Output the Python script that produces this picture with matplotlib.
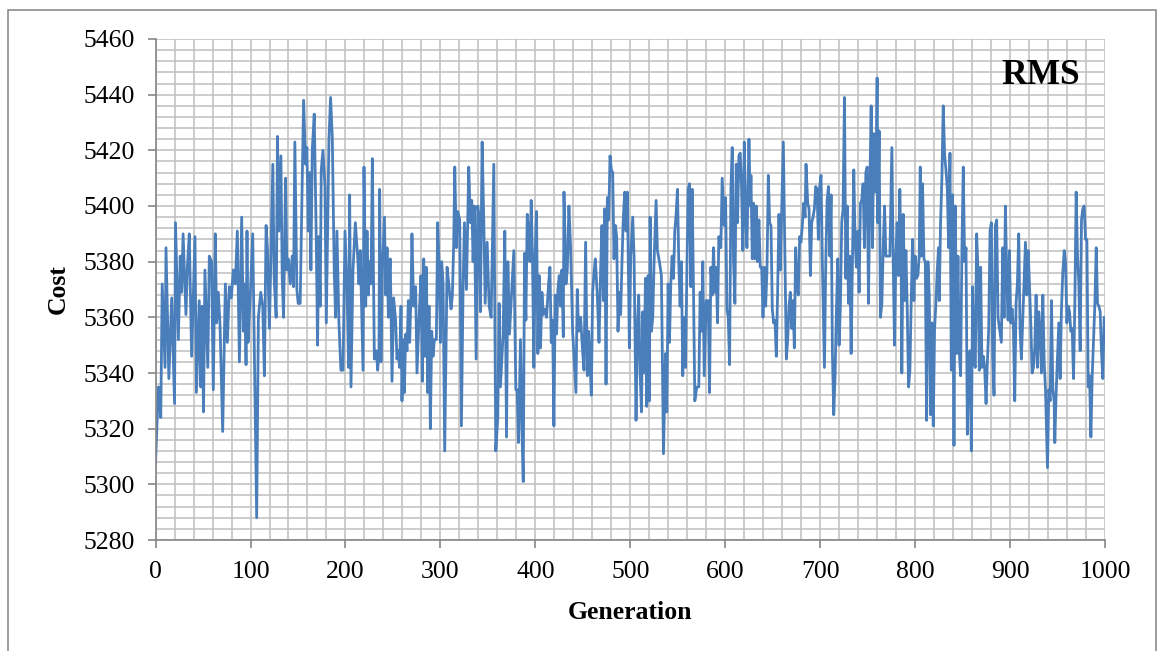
import matplotlib.pyplot as plt
from matplotlib.patches import Rectangle
from matplotlib.ticker import MultipleLocator

plt.rcParams["font.family"] = ["Liberation Serif", "DejaVu Serif"]

# peaks and troughs, generation 0..1000
generation = [
    # 0 - 120
    0, 3, 5.5, 7, 10, 11, 14, 17, 20, 21,
    24, 26, 27.5, 29, 32, 33.5, 35.5, 38, 41.5, 43,
    46, 47.5, 49, 50.5, 52, 55, 56.6, 59, 60.8, 62.9,
    64.3, 66.1, 67.9, 70.7, 73.5, 75.6, 77.7, 79.8, 81.9, 84,
    86.1, 88.3, 90.7, 92.5, 93.9, 95.3, 96.3, 97.4, 99.5, 102.3,
    106.5, 108.3, 110.8, 112.9, 114.6, 116.4, 117.8, 119.9,
    # 120 - 247
    123.5, 124.9, 127, 128.4, 129.8, 132, 133.4, 134.8, 136.9, 138.3,
    139.7, 141.8, 143.9, 145.3, 146.7, 148.8, 150.2, 152.3, 153.8, 155.9,
    158, 159.4, 160.8, 162.2, 163.6, 165, 167.1, 169.2, 170.6, 172,
    173.4, 174.5, 176.3, 178.4, 179.8, 182.6, 184.3, 186.1, 188.2, 189.6,
    191, 193.1, 195.2, 197.4, 199.5, 201.6, 203.3, 204.4, 205.8, 207.9,
    210.4, 212.8, 214.2, 215.6, 217, 218.5, 219.5, 221.3, 222.7, 224.1,
    225.5, 226.9, 228.3, 230.4, 232.5, 233.9, 235.3, 236, 237.4, 238.8,
    241, 242.4, 243.8, 245.2, 246.6,
    # 247 - 373
    247.2, 249, 250.7, 252.8, 254.2, 255.6, 257, 258.5, 259.5, 260.6,
    262, 263.4, 264.8, 266.2, 267.6, 269, 270, 271.8, 273.9, 275.3,
    277.4, 279.5, 281, 282.4, 283.8, 285.2, 286.6, 288, 289.4, 290.8,
    292.2, 293.6, 295.7, 297.1, 298.5, 300, 301.3, 302.8, 304.5, 307,
    309.1, 311.2, 312.6, 314, 315.1, 316.8, 318.2, 320.3, 322.1, 323.9,
    325.3, 327.4, 329.8, 331.6, 333, 334.4, 335.8, 337.6, 339.3, 340.7,
    342.1, 343.9, 345.7, 347.1, 349.2, 351.3, 353.4, 356.2, 358.3, 360.4,
    361.8, 363.2, 366, 367.8, 369.6, 371, 372.7,
    # 377 - 499
    377.3, 379.4, 380.8, 382.2, 384.3, 385.8, 387.2, 388.6, 390, 391.4,
    392.8, 394.2, 395.6, 397, 398.4, 399.8, 401.2, 402.6, 404, 405.4,
    406.9, 408.3, 410.4, 411.8, 413.9, 415.3, 416.7, 418.1, 419.5, 420.9,
    422.3, 423.7, 425.1, 426.5, 427.9, 429.4, 430.1, 432.2, 433.6, 435.3,
    437.1, 439.2, 441.3, 442.7, 444.1, 445.5, 447.6, 449.7, 451.2, 452.9,
    454.7, 456.1, 457.5, 458.9, 460.3, 461.7, 463.1, 465.2, 467, 468.7,
    470.1, 471.6, 473, 474.4, 475.8, 477.2, 478.6, 480, 481.4, 482.8,
    484.2, 485.6, 487, 488.4, 489.8, 491.2, 492.6, 494.1, 495.5, 496.9,
    499,
    # 500 - 626
    500.4, 502.5, 503.9, 506, 507.4, 508.8, 510.2, 511.7, 513.1, 514.5,
    515.9, 517.3, 518.7, 520.1, 520.8, 522.2, 523.6, 525, 527.1, 528.5,
    530.6, 532.7, 534.9, 537, 538.4, 539.8, 541.2, 542.6, 544, 545.4,
    546.8, 548.2, 549.6, 551, 552.4, 553.8, 555.2, 556.7, 558.1, 559.5,
    560.9, 562.3, 563.7, 565.1, 566.5, 567.9, 570, 572.1, 573.5, 574.9,
    576.3, 577.8, 579.9, 582, 583.4, 584.8, 586.2, 587.6, 589, 590.4,
    591.8, 593.2, 595.3, 596.7, 598.9, 600.3, 601.7, 603.1, 604.5, 605.9,
    607.3, 608.7, 610.1, 611.5, 612.9, 614.3, 615.7, 617.1, 618.5, 620,
    621.4, 622.8, 624.9, 626.3,
    # 627 - 752
    627, 628.4, 629.8, 631.2, 632.6, 634, 635.4, 636.8, 638.3, 639.7,
    641.1, 642.5, 643.9, 645.3, 646.7, 648.1, 649.5, 650.9, 652.3, 653.7,
    655.1, 656.5, 657.9, 659.3, 661.1, 662.9, 664.3, 665.7, 667.1, 668.5,
    669.9, 671.3, 672.7, 674.1, 675.5, 676.9, 678.3, 679.7, 681.1, 682.6,
    684, 685, 686.8, 688.2, 689.6, 691, 692.4, 693.8, 695.2, 696.6,
    698, 699.4, 700.8, 702.2, 704.4, 705.8, 707.2, 708.6, 710, 711.4,
    712.8, 714.2, 715.6, 717, 718.4, 719.8, 721.2, 722.6, 724, 725.5,
    726.9, 728.3, 729.7, 731.1, 732.5, 733.9, 735.3, 736.7, 738.1, 739.5,
    740.9, 742.3, 743.7, 745.1, 746.5, 748, 749.4, 750.8, 752.2,
    # 753 - 879
    753.6, 755, 756.4, 757.8, 759.2, 759.9, 760.6, 762, 763.4, 764.9,
    766.3, 767.7, 769.1, 771.2, 773.3, 775.4, 776.8, 778.2, 779.6, 781,
    782.4, 783.8, 785.2, 785.9, 787.4, 788.8, 790.2, 791.6, 793, 794.4,
    795.8, 797.2, 798.6, 800, 801.4, 802.8, 804.2, 805.3, 806.3, 807.7,
    809.2, 810.6, 812, 813.4, 814.8, 816.2, 817.6, 819, 820.4, 821.8,
    823.2, 824.6, 825.3, 826.7, 828.1, 829.5, 831, 832.4, 833.8, 835.2,
    836.6, 838, 839.4, 840.8, 842.2, 843.6, 845, 846.4, 847.8, 849.2,
    850.6, 852, 853.5, 854.9, 856.3, 857.7, 859.1, 860.5, 861.9, 863.3,
    864.7, 866.1, 867.5, 868.9, 870.3, 871.7, 873.1, 874.6, 876, 877.4,
    878.8,
    # 880 - 1000
    880.2, 881.6, 883, 884.4, 885.8, 887.2, 890.7, 892.2, 893.6, 895,
    896.4, 897.8, 899.2, 900.6, 902, 903.4, 904.8, 906.2, 907.6, 909,
    910.4, 911.8, 913.3, 914.7, 916.1, 917.5, 918.9, 920.3, 921.7, 923.1,
    924.5, 925.9, 927.3, 928.7, 930.1, 931.5, 932.9, 934.4, 935.8, 937.2,
    939.3, 940.7, 942.1, 943.5, 944.9, 946.3, 947, 948.4, 949.8, 951.2,
    952.6, 954, 955.4, 956.9, 958.3, 959.7, 961.1, 962.5, 963.9, 965.3,
    966.7, 968.1, 969.5, 970.9, 972.3, 973.7, 975.1, 976.5, 977.9, 979.4,
    980.8, 982.2, 983.6, 985, 986.4, 989.2, 990.6, 992, 993.4, 994.8,
    996.2, 997.6, 999, 1000,
]

cost = [
    # 0 - 120
    5308, 5335, 5324, 5372, 5342, 5385, 5338, 5367, 5329, 5394,
    5352, 5382, 5369, 5390, 5361, 5378, 5390, 5346, 5389, 5333,
    5366, 5335, 5364, 5326, 5377, 5342, 5382, 5380, 5334, 5390,
    5358, 5369, 5357, 5319, 5372, 5351, 5371, 5367, 5377, 5372,
    5391, 5344, 5396, 5355, 5372, 5343, 5391, 5351, 5366, 5390,
    5288, 5360, 5369, 5364, 5339, 5393, 5385, 5356,
    # 120 - 247
    5415, 5374, 5360, 5425, 5391, 5418, 5374, 5360, 5410, 5377,
    5381, 5372, 5382, 5371, 5423, 5370, 5365, 5365, 5396, 5438,
    5415, 5421, 5391, 5412, 5377, 5420, 5433, 5389, 5350, 5389,
    5364, 5413, 5420, 5407, 5358, 5424, 5439, 5425, 5376, 5360,
    5391, 5358, 5341, 5341, 5391, 5371, 5342, 5404, 5335, 5377,
    5394, 5382, 5372, 5384, 5364, 5341, 5414, 5364, 5391, 5368,
    5380, 5372, 5417, 5345, 5348, 5341, 5347, 5406, 5344, 5377,
    5396, 5368, 5385, 5360, 5378,
    # 247 - 373
    5381, 5337, 5367, 5359, 5345, 5348, 5342, 5364, 5330, 5352,
    5333, 5354, 5348, 5366, 5351, 5368, 5390, 5364, 5371, 5340,
    5359, 5375, 5337, 5381, 5346, 5378, 5333, 5364, 5320, 5355,
    5346, 5352, 5352, 5394, 5380, 5351, 5380, 5372, 5312, 5378,
    5371, 5363, 5368, 5387, 5414, 5385, 5398, 5395, 5321, 5372,
    5394, 5370, 5414, 5394, 5402, 5380, 5400, 5345, 5400, 5396,
    5362, 5423, 5394, 5365, 5387, 5364, 5360, 5415, 5312, 5324,
    5365, 5335, 5354, 5391, 5317, 5380, 5354,
    # 377 - 499
    5384, 5334, 5334, 5315, 5352, 5320, 5301, 5383, 5359, 5397,
    5391, 5380, 5402, 5380, 5342, 5383, 5398, 5347, 5375, 5349,
    5369, 5361, 5363, 5360, 5372, 5378, 5351, 5359, 5321, 5368,
    5354, 5370, 5375, 5364, 5377, 5353, 5405, 5372, 5377, 5400,
    5385, 5355, 5342, 5333, 5370, 5355, 5360, 5348, 5341, 5387,
    5339, 5355, 5344, 5332, 5369, 5376, 5381, 5368, 5351, 5377,
    5393, 5366, 5399, 5336, 5403, 5395, 5418, 5413, 5412, 5381,
    5393, 5389, 5355, 5369, 5361, 5380, 5396, 5405, 5391, 5405,
    5349,
    # 500 - 626
    5382, 5396, 5382, 5323, 5356, 5368, 5341, 5326, 5362, 5340,
    5374, 5328, 5375, 5330, 5396, 5355, 5360, 5380, 5402, 5384,
    5380, 5375, 5311, 5347, 5326, 5372, 5351, 5372, 5382, 5374,
    5391, 5397, 5406, 5380, 5364, 5380, 5339, 5360, 5342, 5376,
    5406, 5408, 5371, 5406, 5370, 5330, 5335, 5335, 5369, 5355,
    5380, 5339, 5366, 5366, 5333, 5378, 5368, 5385, 5369, 5378,
    5358, 5389, 5385, 5410, 5393, 5403, 5363, 5360, 5343, 5406,
    5421, 5380, 5365, 5415, 5394, 5418, 5419, 5407, 5384, 5423,
    5396, 5385, 5424, 5400,
    # 627 - 752
    5411, 5381, 5401, 5381, 5400, 5380, 5395, 5378, 5378, 5360,
    5378, 5364, 5377, 5411, 5394, 5393, 5363, 5358, 5359, 5346,
    5369, 5397, 5377, 5397, 5423, 5380, 5345, 5352, 5364, 5369,
    5356, 5366, 5349, 5385, 5371, 5368, 5389, 5387, 5393, 5401,
    5396, 5415, 5401, 5399, 5375, 5394, 5396, 5399, 5407, 5406,
    5388, 5407, 5411, 5380, 5342, 5380, 5402, 5407, 5382, 5404,
    5347, 5325, 5339, 5362, 5381, 5350, 5364, 5394, 5399, 5439,
    5374, 5400, 5365, 5382, 5347, 5381, 5413, 5387, 5378, 5391,
    5369, 5401, 5402, 5408, 5385, 5412, 5414, 5365, 5406,
    # 753 - 879
    5436, 5385, 5426, 5405, 5427, 5446, 5394, 5427, 5360, 5365,
    5385, 5400, 5382, 5382, 5382, 5421, 5380, 5350, 5382, 5394,
    5375, 5406, 5380, 5340, 5397, 5366, 5384, 5363, 5335, 5341,
    5366, 5388, 5366, 5382, 5374, 5375, 5382, 5414, 5382, 5408,
    5381, 5380, 5323, 5380, 5368, 5325, 5358, 5321, 5356, 5365,
    5377, 5385, 5366, 5394, 5410, 5436, 5418, 5413, 5406, 5385,
    5419, 5341, 5404, 5314, 5400, 5347, 5382, 5348, 5339, 5385,
    5414, 5380, 5385, 5318, 5342, 5348, 5312, 5371, 5344, 5342,
    5390, 5377, 5341, 5378, 5342, 5346, 5342, 5329, 5344, 5356,
    5391,
    # 880 - 1000
    5394, 5346, 5332, 5393, 5395, 5360, 5351, 5385, 5360, 5400,
    5374, 5359, 5384, 5358, 5363, 5356, 5330, 5365, 5372, 5390,
    5356, 5345, 5360, 5374, 5387, 5368, 5384, 5372, 5358, 5340,
    5342, 5349, 5368, 5342, 5362, 5356, 5340, 5368, 5344, 5334,
    5306, 5334, 5330, 5366, 5334, 5330, 5315, 5333, 5345, 5358,
    5338, 5363, 5376, 5384, 5380, 5358, 5364, 5362, 5355, 5356,
    5338, 5365, 5405, 5382, 5372, 5348, 5395, 5399, 5400, 5388,
    5388, 5335, 5339, 5317, 5339, 5365, 5385, 5365, 5364, 5362,
    5347, 5338, 5360, 5360,
]

fig = plt.figure(figsize=(11.6, 6.51), dpi=100)
ax = fig.add_axes([0.1341, 0.1705, 0.8186, 0.7696])

ax.plot(generation, cost, color="#4a7ebb", lw=2.0)

ax.set_xlim(0, 1000)
ax.set_ylim(5280, 5460)
ax.xaxis.set_major_locator(MultipleLocator(100))
ax.xaxis.set_minor_locator(MultipleLocator(20))
ax.yaxis.set_major_locator(MultipleLocator(20))
ax.yaxis.set_minor_locator(MultipleLocator(4))
ax.grid(which="both", color="#bfbfbf", lw=1.1)
ax.set_axisbelow(True)

ax.tick_params(which="minor", length=0)
ax.tick_params(which="major", length=6, width=1.2, color="#868686",
               labelsize=18.5, pad=9)
for s in ["top", "right"]:
    ax.spines[s].set_visible(False)
for s in ["left", "bottom"]:
    ax.spines[s].set_color("#868686")
    ax.spines[s].set_linewidth(1.2)

ax.set_xlabel("Generation", fontsize=18.5, fontweight="bold", labelpad=13)
ax.set_ylabel("Cost", fontsize=18.5, fontweight="bold", labelpad=10)
ax.text(0.932, 0.928, "RMS", transform=ax.transAxes, ha="center", va="center",
        fontsize=25.5, fontweight="bold")

# chart area border
fig.patches.append(Rectangle((0.0069, -0.05), 0.9897, 1.035,
                             transform=fig.transFigure, fill=False,
                             edgecolor="#8c8c8c", lw=1.2))

fig.savefig("out.png", dpi=100)
